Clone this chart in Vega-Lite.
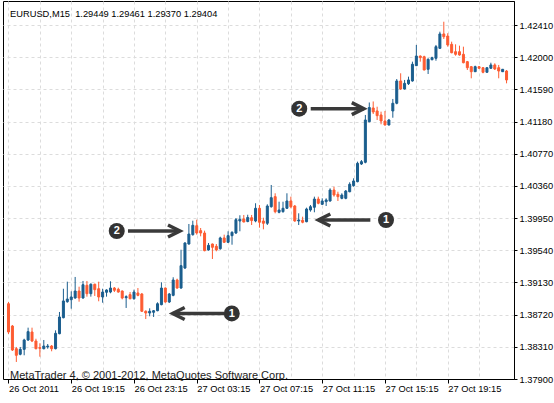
{
  "$schema": "https://vega.github.io/schema/vega-lite/v6.json",
  "width": 511,
  "height": 378,
  "autosize": {"type": "none"},
  "padding": {"left": 3, "top": 1, "right": 40, "bottom": 24},
  "background": "#ffffff",
  "config": {
    "view": {"stroke": "#000000", "strokeWidth": 1},
    "axis": {"title": null, "labelOverlap": false, "labelFlush": false, "labelFont": "Liberation Sans", "labelFontSize": 9.3, "labelColor": "#000000", "domainColor": "#000000", "tickColor": "#000000", "gridColor": "#dcdcdc", "gridDash": [3, 3], "gridWidth": 1}
  },
  "layer": [
    {
      "data": {
        "format": {"parse": {"t": "utc:'%Y-%m-%d %H:%M'"}},
        "values": [
          {"t":"2011-10-26 15:15","o":1.38859,"h":1.38881,"l":1.38473,"c":1.38499},
          {"t":"2011-10-26 15:30","o":1.38575,"h":1.38588,"l":1.38257,"c":1.38269},
          {"t":"2011-10-26 15:45","o":1.38286,"h":1.38308,"l":1.38117,"c":1.38202},
          {"t":"2011-10-26 16:00","o":1.38215,"h":1.38308,"l":1.38202,"c":1.38278},
          {"t":"2011-10-26 16:15","o":1.38278,"h":1.38413,"l":1.38202,"c":1.38397},
          {"t":"2011-10-26 16:30","o":1.38397,"h":1.38554,"l":1.38384,"c":1.38503},
          {"t":"2011-10-26 16:45","o":1.38499,"h":1.38554,"l":1.38371,"c":1.38384},
          {"t":"2011-10-26 17:00","o":1.38384,"h":1.38413,"l":1.38278,"c":1.38286},
          {"t":"2011-10-26 17:15","o":1.38299,"h":1.38355,"l":1.38184,"c":1.38291},
          {"t":"2011-10-26 17:30","o":1.38286,"h":1.38397,"l":1.38278,"c":1.38320},
          {"t":"2011-10-26 17:45","o":1.38308,"h":1.38346,"l":1.38286,"c":1.38320},
          {"t":"2011-10-26 18:00","o":1.38320,"h":1.38333,"l":1.38253,"c":1.38286},
          {"t":"2011-10-26 18:15","o":1.38286,"h":1.38520,"l":1.38278,"c":1.38482},
          {"t":"2011-10-26 18:30","o":1.38477,"h":1.38754,"l":1.38470,"c":1.38690},
          {"t":"2011-10-26 18:45","o":1.38681,"h":1.39050,"l":1.38673,"c":1.38894},
          {"t":"2011-10-26 19:00","o":1.38885,"h":1.39140,"l":1.38872,"c":1.38919},
          {"t":"2011-10-26 19:15","o":1.38910,"h":1.39017,"l":1.38796,"c":1.38945},
          {"t":"2011-10-26 19:30","o":1.38932,"h":1.39200,"l":1.38923,"c":1.39021},
          {"t":"2011-10-26 19:45","o":1.39021,"h":1.39076,"l":1.38885,"c":1.38932},
          {"t":"2011-10-26 20:00","o":1.38932,"h":1.39149,"l":1.38923,"c":1.39101},
          {"t":"2011-10-26 20:15","o":1.39094,"h":1.39149,"l":1.38949,"c":1.38987},
          {"t":"2011-10-26 20:30","o":1.38987,"h":1.39119,"l":1.38949,"c":1.39107},
          {"t":"2011-10-26 20:45","o":1.39107,"h":1.39115,"l":1.38958,"c":1.39038},
          {"t":"2011-10-26 21:00","o":1.39050,"h":1.39140,"l":1.38890,"c":1.38945},
          {"t":"2011-10-26 21:15","o":1.38945,"h":1.39050,"l":1.38872,"c":1.39008},
          {"t":"2011-10-26 21:30","o":1.39005,"h":1.39043,"l":1.38949,"c":1.39034},
          {"t":"2011-10-26 21:45","o":1.39008,"h":1.39145,"l":1.38992,"c":1.39059},
          {"t":"2011-10-26 22:00","o":1.39059,"h":1.39072,"l":1.39008,"c":1.39030},
          {"t":"2011-10-26 22:15","o":1.39043,"h":1.39063,"l":1.39000,"c":1.39008},
          {"t":"2011-10-26 22:30","o":1.39021,"h":1.39028,"l":1.38915,"c":1.38932},
          {"t":"2011-10-26 22:45","o":1.38936,"h":1.38966,"l":1.38805,"c":1.38949},
          {"t":"2011-10-26 23:00","o":1.38975,"h":1.39008,"l":1.38915,"c":1.38923},
          {"t":"2011-10-26 23:15","o":1.38923,"h":1.39038,"l":1.38910,"c":1.39008},
          {"t":"2011-10-26 23:30","o":1.38996,"h":1.39059,"l":1.38954,"c":1.38966},
          {"t":"2011-10-26 23:45","o":1.38983,"h":1.38996,"l":1.38754,"c":1.38763},
          {"t":"2011-10-27 00:00","o":1.38763,"h":1.38775,"l":1.38664,"c":1.38741},
          {"t":"2011-10-27 00:15","o":1.38741,"h":1.38801,"l":1.38699,"c":1.38763},
          {"t":"2011-10-27 00:30","o":1.38750,"h":1.38779,"l":1.38690,"c":1.38770},
          {"t":"2011-10-27 00:45","o":1.38770,"h":1.38877,"l":1.38763,"c":1.38859},
          {"t":"2011-10-27 01:00","o":1.38847,"h":1.39132,"l":1.38839,"c":1.39059},
          {"t":"2011-10-27 01:15","o":1.39059,"h":1.39066,"l":1.38872,"c":1.38881},
          {"t":"2011-10-27 01:30","o":1.38881,"h":1.38996,"l":1.38868,"c":1.38983},
          {"t":"2011-10-27 01:45","o":1.38966,"h":1.39196,"l":1.38954,"c":1.39161},
          {"t":"2011-10-27 02:00","o":1.39161,"h":1.39178,"l":1.39050,"c":1.39059},
          {"t":"2011-10-27 02:15","o":1.39059,"h":1.39547,"l":1.39050,"c":1.39344},
          {"t":"2011-10-27 02:30","o":1.39314,"h":1.39642,"l":1.39302,"c":1.39633},
          {"t":"2011-10-27 02:45","o":1.39620,"h":1.39875,"l":1.39611,"c":1.39747},
          {"t":"2011-10-27 03:00","o":1.39739,"h":1.39917,"l":1.39726,"c":1.39858},
          {"t":"2011-10-27 03:15","o":1.39853,"h":1.39930,"l":1.39739,"c":1.39760},
          {"t":"2011-10-27 03:30","o":1.39790,"h":1.39824,"l":1.39718,"c":1.39760},
          {"t":"2011-10-27 03:45","o":1.39760,"h":1.39790,"l":1.39527,"c":1.39535},
          {"t":"2011-10-27 04:00","o":1.39544,"h":1.39633,"l":1.39535,"c":1.39603},
          {"t":"2011-10-27 04:15","o":1.39620,"h":1.39626,"l":1.39429,"c":1.39578},
          {"t":"2011-10-27 04:30","o":1.39591,"h":1.39620,"l":1.39527,"c":1.39544},
          {"t":"2011-10-27 04:45","o":1.39560,"h":1.39713,"l":1.39547,"c":1.39697},
          {"t":"2011-10-27 05:00","o":1.39697,"h":1.39739,"l":1.39633,"c":1.39642},
          {"t":"2011-10-27 05:15","o":1.39642,"h":1.39782,"l":1.39633,"c":1.39726},
          {"t":"2011-10-27 05:30","o":1.39726,"h":1.39782,"l":1.39611,"c":1.39769},
          {"t":"2011-10-27 05:45","o":1.39760,"h":1.39951,"l":1.39747,"c":1.39930},
          {"t":"2011-10-27 06:00","o":1.39913,"h":1.39986,"l":1.39782,"c":1.39935},
          {"t":"2011-10-27 06:15","o":1.39939,"h":1.39990,"l":1.39897,"c":1.39900},
          {"t":"2011-10-27 06:30","o":1.39907,"h":1.39993,"l":1.39897,"c":1.39958},
          {"t":"2011-10-27 06:45","o":1.39955,"h":1.39990,"l":1.39862,"c":1.39919},
          {"t":"2011-10-27 07:00","o":1.39913,"h":1.40139,"l":1.39897,"c":1.40075},
          {"t":"2011-10-27 07:15","o":1.40075,"h":1.40117,"l":1.39828,"c":1.39897},
          {"t":"2011-10-27 07:30","o":1.39913,"h":1.39955,"l":1.39807,"c":1.39884},
          {"t":"2011-10-27 07:45","o":1.39884,"h":1.40126,"l":1.39862,"c":1.40104},
          {"t":"2011-10-27 08:00","o":1.40095,"h":1.40372,"l":1.40083,"c":1.40210},
          {"t":"2011-10-27 08:15","o":1.40223,"h":1.40266,"l":1.40011,"c":1.40032},
          {"t":"2011-10-27 08:30","o":1.40024,"h":1.40159,"l":1.40011,"c":1.40053},
          {"t":"2011-10-27 08:45","o":1.40032,"h":1.40159,"l":1.40019,"c":1.40075},
          {"t":"2011-10-27 09:00","o":1.40075,"h":1.40266,"l":1.40066,"c":1.40168},
          {"t":"2011-10-27 09:15","o":1.40168,"h":1.40223,"l":1.40075,"c":1.40095},
          {"t":"2011-10-27 09:30","o":1.40104,"h":1.40117,"l":1.39904,"c":1.39913},
          {"t":"2011-10-27 09:45","o":1.39913,"h":1.40011,"l":1.39862,"c":1.39926},
          {"t":"2011-10-27 10:00","o":1.39922,"h":1.39968,"l":1.39884,"c":1.39897},
          {"t":"2011-10-27 10:15","o":1.39904,"h":1.40083,"l":1.39897,"c":1.40066},
          {"t":"2011-10-27 10:30","o":1.40053,"h":1.40117,"l":1.40032,"c":1.40095},
          {"t":"2011-10-27 10:45","o":1.40088,"h":1.40223,"l":1.40024,"c":1.40193},
          {"t":"2011-10-27 11:00","o":1.40193,"h":1.40223,"l":1.40126,"c":1.40139},
          {"t":"2011-10-27 11:15","o":1.40126,"h":1.40202,"l":1.40117,"c":1.40168},
          {"t":"2011-10-27 11:30","o":1.40159,"h":1.40202,"l":1.40104,"c":1.40181},
          {"t":"2011-10-27 11:45","o":1.40168,"h":1.40330,"l":1.40159,"c":1.40308},
          {"t":"2011-10-27 12:00","o":1.40308,"h":1.40350,"l":1.40223,"c":1.40244},
          {"t":"2011-10-27 12:15","o":1.40253,"h":1.40286,"l":1.40168,"c":1.40223},
          {"t":"2011-10-27 12:30","o":1.40202,"h":1.40266,"l":1.40190,"c":1.40244},
          {"t":"2011-10-27 12:45","o":1.40202,"h":1.40308,"l":1.40190,"c":1.40295},
          {"t":"2011-10-27 13:00","o":1.40286,"h":1.40406,"l":1.40279,"c":1.40381},
          {"t":"2011-10-27 13:15","o":1.40363,"h":1.40457,"l":1.40350,"c":1.40423},
          {"t":"2011-10-27 13:30","o":1.40414,"h":1.40669,"l":1.40406,"c":1.40648},
          {"t":"2011-10-27 13:45","o":1.40639,"h":1.40690,"l":1.40627,"c":1.40669},
          {"t":"2011-10-27 14:00","o":1.40661,"h":1.41264,"l":1.40648,"c":1.41200},
          {"t":"2011-10-27 14:15","o":1.41178,"h":1.41423,"l":1.41171,"c":1.41359},
          {"t":"2011-10-27 14:30","o":1.41353,"h":1.41436,"l":1.41276,"c":1.41302},
          {"t":"2011-10-27 14:45","o":1.41315,"h":1.41369,"l":1.41200,"c":1.41255},
          {"t":"2011-10-27 15:00","o":1.41264,"h":1.41306,"l":1.41145,"c":1.41187},
          {"t":"2011-10-27 15:15","o":1.41187,"h":1.41315,"l":1.41130,"c":1.41136},
          {"t":"2011-10-27 15:30","o":1.41136,"h":1.41213,"l":1.41130,"c":1.41200},
          {"t":"2011-10-27 15:45","o":1.41315,"h":1.41468,"l":1.41229,"c":1.41413},
          {"t":"2011-10-27 16:00","o":1.41413,"h":1.41722,"l":1.41400,"c":1.41697},
          {"t":"2011-10-27 16:15","o":1.41697,"h":1.41795,"l":1.41582,"c":1.41595},
          {"t":"2011-10-27 16:30","o":1.41595,"h":1.41710,"l":1.41588,"c":1.41667},
          {"t":"2011-10-27 16:45","o":1.41662,"h":1.41752,"l":1.41646,"c":1.41710},
          {"t":"2011-10-27 17:00","o":1.41697,"h":1.41943,"l":1.41688,"c":1.41910},
          {"t":"2011-10-27 17:15","o":1.41892,"h":1.42156,"l":1.41888,"c":1.42015},
          {"t":"2011-10-27 17:30","o":1.42015,"h":1.42022,"l":1.41943,"c":1.41994},
          {"t":"2011-10-27 17:45","o":1.42006,"h":1.42019,"l":1.41833,"c":1.41837},
          {"t":"2011-10-27 18:00","o":1.41846,"h":1.41986,"l":1.41786,"c":1.41973},
          {"t":"2011-10-27 18:15","o":1.41968,"h":1.42006,"l":1.41961,"c":1.41994},
          {"t":"2011-10-27 18:30","o":1.41986,"h":1.42156,"l":1.41955,"c":1.42134},
          {"t":"2011-10-27 18:45","o":1.42113,"h":1.42325,"l":1.42105,"c":1.42296},
          {"t":"2011-10-27 19:00","o":1.42296,"h":1.42452,"l":1.42232,"c":1.42261},
          {"t":"2011-10-27 19:15","o":1.42270,"h":1.42305,"l":1.42134,"c":1.42156},
          {"t":"2011-10-27 19:30","o":1.42164,"h":1.42198,"l":1.42050,"c":1.42057},
          {"t":"2011-10-27 19:45","o":1.42070,"h":1.42164,"l":1.42019,"c":1.42037},
          {"t":"2011-10-27 20:00","o":1.42070,"h":1.42147,"l":1.42019,"c":1.42028},
          {"t":"2011-10-27 20:15","o":1.42037,"h":1.42134,"l":1.41922,"c":1.41930},
          {"t":"2011-10-27 20:30","o":1.41943,"h":1.41952,"l":1.41837,"c":1.41866},
          {"t":"2011-10-27 20:45","o":1.41879,"h":1.41888,"l":1.41731,"c":1.41815},
          {"t":"2011-10-27 21:00","o":1.41815,"h":1.41892,"l":1.41812,"c":1.41879},
          {"t":"2011-10-27 21:15","o":1.41879,"h":1.41888,"l":1.41850,"c":1.41859},
          {"t":"2011-10-27 21:30","o":1.41866,"h":1.41875,"l":1.41795,"c":1.41808},
          {"t":"2011-10-27 21:45","o":1.41808,"h":1.41869,"l":1.41803,"c":1.41866},
          {"t":"2011-10-27 22:00","o":1.41859,"h":1.41930,"l":1.41850,"c":1.41901},
          {"t":"2011-10-27 22:15","o":1.41901,"h":1.41922,"l":1.41837,"c":1.41850},
          {"t":"2011-10-27 22:30","o":1.41866,"h":1.41901,"l":1.41731,"c":1.41824},
          {"t":"2011-10-27 22:45","o":1.41815,"h":1.41850,"l":1.41812,"c":1.41846},
          {"t":"2011-10-27 23:00","o":1.41824,"h":1.41837,"l":1.41667,"c":1.41710}
        ]
      },
      "encoding": {
        "x": {
          "field": "t", "type": "temporal",
          "scale": {"type": "utc", "domain": [
            {"year": 2011, "month": 10, "date": 26, "hours": 15, "minutes": 13, "seconds": 7, "milliseconds": 500, "utc": true},
            {"year": 2011, "month": 10, "date": 27, "hours": 23, "minutes": 9, "seconds": 22, "milliseconds": 500, "utc": true}
          ]},
          "axis": {
            "orient": "bottom",
            "title": null,
            "tickCount": 40,
            "values": [
              {"year": 2011, "month": 10, "date": 26, "hours": 15, "minutes": 15, "utc": true},
              {"year": 2011, "month": 10, "date": 26, "hours": 17, "minutes": 15, "utc": true},
              {"year": 2011, "month": 10, "date": 26, "hours": 19, "minutes": 15, "utc": true},
              {"year": 2011, "month": 10, "date": 26, "hours": 21, "minutes": 15, "utc": true},
              {"year": 2011, "month": 10, "date": 26, "hours": 23, "minutes": 15, "utc": true},
              {"year": 2011, "month": 10, "date": 27, "hours": 1, "minutes": 15, "utc": true},
              {"year": 2011, "month": 10, "date": 27, "hours": 3, "minutes": 15, "utc": true},
              {"year": 2011, "month": 10, "date": 27, "hours": 5, "minutes": 15, "utc": true},
              {"year": 2011, "month": 10, "date": 27, "hours": 7, "minutes": 15, "utc": true},
              {"year": 2011, "month": 10, "date": 27, "hours": 9, "minutes": 15, "utc": true},
              {"year": 2011, "month": 10, "date": 27, "hours": 11, "minutes": 15, "utc": true},
              {"year": 2011, "month": 10, "date": 27, "hours": 13, "minutes": 15, "utc": true},
              {"year": 2011, "month": 10, "date": 27, "hours": 15, "minutes": 15, "utc": true},
              {"year": 2011, "month": 10, "date": 27, "hours": 17, "minutes": 15, "utc": true},
              {"year": 2011, "month": 10, "date": 27, "hours": 19, "minutes": 15, "utc": true},
              {"year": 2011, "month": 10, "date": 27, "hours": 21, "minutes": 15, "utc": true}
            ],
            "labelExpr": "utcdate(datum.value) == 26 && utchours(datum.value) == 15 ? utcFormat(datum.value, '%d %b %Y') : (utchours(datum.value) % 4 == 3 ? utcFormat(datum.value, '%d %b %H:%M') : '')",
            "labelAlign": "left",
            "labelPadding": 1,
            "labelOverlap": false,
            "labelFlush": false,
            "tickSize": 4,
            "tickOpacity": {"condition": {"test": "utchours(datum.value) % 4 == 3", "value": 1}, "value": 0},
            "grid": true
          }
        },
        "y": {
          "field": "l", "type": "quantitative",
          "scale": {"domain": [1.379, 1.42716], "nice": false, "zero": false},
          "axis": {
            "orient": "right",
            "title": null,
            "tickCount": 40,
            "values": [1.379, 1.3831, 1.3872, 1.3913, 1.3954, 1.3995, 1.4036, 1.4077, 1.4118, 1.4159, 1.42, 1.4241],
            "format": ".5f",
            "tickSize": 3,
            "labelPadding": 2,
            "labelOverlap": false,
            "labelFlush": false,
            "grid": true
          }
        }
      },
      "layer": [
        {
          "mark": {"type": "rule", "strokeWidth": 1, "clip": true},
          "encoding": {
            "y2": {"field": "h"},
            "color": {"condition": {"test": "datum.c >= datum.o", "value": "#1b5e8e"}, "value": "#fd5c32"}
          }
        },
        {
          "mark": {"type": "bar", "width": 2, "strokeWidth": 1, "clip": true},
          "encoding": {
            "y": {"field": "o", "type": "quantitative", "scale": {"domain": [1.379, 1.42716], "nice": false, "zero": false}},
            "y2": {"field": "c"},
            "color": {"condition": {"test": "datum.c >= datum.o", "value": "#1b5e8e"}, "value": "#fd5c32"},
            "stroke": {"condition": {"test": "datum.c >= datum.o", "value": "#1b5e8e"}, "value": "#fd5c32"}
          }
        }
      ]
    },
    {
      "data": {
        "format": {"parse": {"pos": "utc:'%Y-%m-%d %H:%M'", "tail": "utc:'%Y-%m-%d %H:%M'", "tip": "utc:'%Y-%m-%d %H:%M'"}},
        "values": [
          {"n": "1", "pos": "2011-10-27 05:29", "tail": "2011-10-27 05:00", "tip": "2011-10-27 01:43", "p": 1.38735},
          {"n": "2", "pos": "2011-10-26 22:09", "tail": "2011-10-26 22:52", "tip": "2011-10-27 02:11", "p": 1.39786},
          {"n": "1", "pos": "2011-10-27 15:19", "tail": "2011-10-27 14:19", "tip": "2011-10-27 11:00", "p": 1.39926},
          {"n": "2", "pos": "2011-10-27 09:47", "tail": "2011-10-27 10:31", "tip": "2011-10-27 13:54", "p": 1.41344}
        ]
      },
      "encoding": {
        "y": {"field": "p", "type": "quantitative", "scale": {"domain": [1.379, 1.42716], "nice": false, "zero": false}}
      },
      "layer": [
        {
          "mark": {"type": "rule", "strokeWidth": 3.5, "color": "#3a3a3a", "strokeCap": "butt"},
          "encoding": {
            "x": {"field": "tail", "type": "temporal", "scale": {"type": "utc"}},
            "x2": {"field": "tip"}
          }
        },
        {
          "mark": {"type": "point", "filled": false, "opacity": 1, "size": 576, "strokeWidth": 3.5, "color": "#3a3a3a", "strokeJoin": "miter"},
          "encoding": {
            "x": {"field": "tip", "type": "temporal", "scale": {"type": "utc"}},
            "shape": {"condition": {"test": "datum.tip > datum.tail", "value": "M-1,-0.5L0,0L-1,0.5"}, "value": "M1,-0.5L0,0L1,0.5"}
          }
        },
        {
          "mark": {"type": "point", "filled": true, "opacity": 1, "size": 256, "shape": "circle", "color": "#333333"},
          "encoding": {
            "x": {"field": "pos", "type": "temporal", "scale": {"type": "utc"}}
          }
        },
        {
          "mark": {"type": "text", "font": "Liberation Sans", "fontSize": 11, "fontWeight": "bold", "color": "#ffffff", "align": "center", "baseline": "middle", "dy": 0.5},
          "encoding": {
            "x": {"field": "pos", "type": "temporal", "scale": {"type": "utc"}},
            "text": {"field": "n"}
          }
        }
      ]
    },
    {
      "data": {
        "format": {"parse": {"t": "utc:'%Y-%m-%d %H:%M'"}},
        "values": [{"t": "2011-10-26 15:21", "p": 1.42508, "txt": "EURUSD,M15\u00a0 1.29449 1.29461 1.29370 1.29404"}]
      },
      "mark": {"type": "text", "font": "Liberation Sans", "fontSize": 9.3, "color": "#000000", "align": "left", "baseline": "alphabetic"},
      "encoding": {
        "x": {"field": "t", "type": "temporal", "scale": {"type": "utc"}},
        "y": {"field": "p", "type": "quantitative", "scale": {"domain": [1.379, 1.42716], "nice": false, "zero": false}},
        "text": {"field": "txt"}
      }
    },
    {
      "data": {
        "format": {"parse": {"t": "utc:'%Y-%m-%d %H:%M'"}},
        "values": [{"t": "2011-10-26 15:21", "p": 1.37904, "txt": "MetaTrader 4, © 2001-2012, MetaQuotes Software Corp."}]
      },
      "mark": {"type": "text", "font": "Liberation Sans", "fontSize": 11, "color": "#222222", "align": "left", "baseline": "alphabetic"},
      "encoding": {
        "x": {"field": "t", "type": "temporal", "scale": {"type": "utc"}},
        "y": {"field": "p", "type": "quantitative", "scale": {"domain": [1.379, 1.42716], "nice": false, "zero": false}},
        "text": {"field": "txt"}
      }
    }
  ]
}
